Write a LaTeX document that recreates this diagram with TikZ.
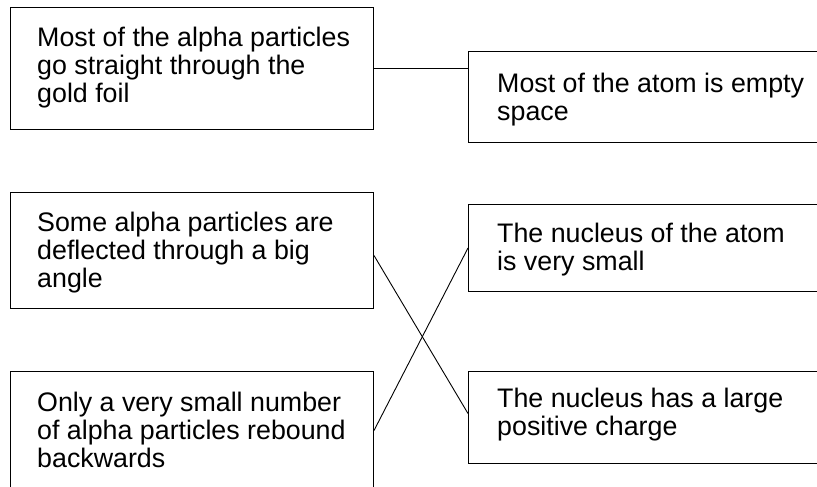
\documentclass[tikz,border=0pt]{standalone}
\usepackage{fontspec}
\setmainfont{Liberation Sans}
\begin{document}
\begin{tikzpicture}[x=1pt,y=-1pt,
  box/.style={draw=black,line width=1pt,inner sep=0pt,anchor=north west},
  txt/.style={inner sep=0pt,anchor=north west,align=left,font=\fontsize{26.8}{28}\selectfont,text=black},
  link/.style={draw=black,line width=0.9pt}]
\useasboundingbox[fill=white] (0,0) rectangle (817,487);
% left boxes
\node[box,minimum width=363pt,minimum height=122pt] (b1) at (10,7) {};
\node[box,minimum width=363pt,minimum height=116pt] (b2) at (10,192) {};
\node[box,minimum width=363pt,minimum height=118pt] (b3) at (10,371) {};
% right boxes
\node[box,minimum width=362pt,minimum height=91pt] (ba) at (468,51) {};
\node[box,minimum width=362pt,minimum height=87pt] (bb) at (468,204) {};
\node[box,minimum width=362pt,minimum height=92pt] (bc) at (468,371) {};
% texts
\node[txt] (t1) at (37,27) {Most of the alpha particles\\go straight through the\\gold foil};
\node[txt] (t2) at (37,212) {Some alpha particles are\\deflected through a big\\angle};
\node[txt] (t3) at (37,392) {Only a very small number\\of alpha particles rebound\\backwards};
\node[txt] (ta) at (497,73) {Most of the atom is empty\\space};
\node[txt] (tb) at (497,223) {The nucleus of the atom\\is very small};
\node[txt] (tc) at (497,388) {The nucleus has a large\\positive charge};
% connectors
\draw[link] (b1.east) -- (b1.east -| ba.west);
\draw[link] ([yshift=-5pt]b2.east) -- ([yshift=4pt]bc.west);
\draw[link] (b3.east) -- (bb.west);
\end{tikzpicture}
\end{document}
